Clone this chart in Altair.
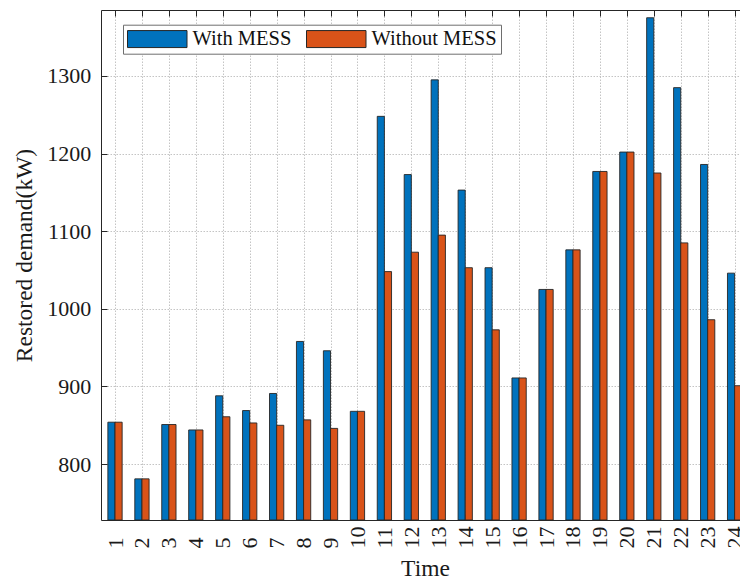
import altair as alt
import pandas as pd

# Restored demand per hour, with and without mobile energy storage (kW)
hours = list(range(1, 25))
with_mess = [854, 781, 851, 844, 888, 869, 891, 958, 946, 868,
             1248, 1173, 1295, 1153, 1053, 911, 1025, 1076, 1177, 1202,
             1375, 1285, 1186, 1046]
without_mess = [854, 781, 851, 844, 861, 853, 850, 857, 846, 868,
                1048, 1073, 1095, 1053, 973, 911, 1025, 1076, 1177, 1202,
                1175, 1085, 986, 901]
series_names = ["With MESS", "Without MESS"]
series_colors = ["#0072BD", "#D95319"]
y_tick_values = [800, 900, 1000, 1100, 1200, 1300]

rows = []
for h, a, b in zip(hours, with_mess, without_mess):
    rows.append({"hour": h, "series": series_names[0], "demand": a})
    rows.append({"hour": h, "series": series_names[1], "demand": b})
df = pd.DataFrame(rows)

X_DOMAIN = [0.48, 24.2]
Y_DOMAIN = [728, 1385]
BAR_W = 0.265
FONT = "Liberation Serif"
INK = "#262626"

x_scale = alt.Scale(domain=X_DOMAIN, nice=False, zero=False)
y_scale = alt.Scale(domain=Y_DOMAIN, nice=False, zero=False)

base = alt.Chart(df).transform_calculate(
    x_start=f"datum.hour + (datum.series == '{series_names[0]}' ? {-BAR_W} : 0)"
).transform_calculate(
    x_end=f"datum.x_start + {BAR_W}"
)

# grouped bars with labelled axes, grid and legend
bars = base.mark_bar(clip=True, stroke=INK, strokeWidth=0.9, opacity=1).encode(
    x=alt.X("x_start:Q", scale=x_scale,
            axis=alt.Axis(orient="bottom", values=hours, grid=True, ticks=False,
                          domain=True, labelAngle=270, labelAlign="left",
                          labelBaseline="middle", labelPadding=28, format="d",
                          title="Time", titleX=324, titleY=55.5,
                          titleBaseline="alphabetic", titleAlign="center")),
    x2="x_end:Q",
    y=alt.Y("demand:Q", scale=y_scale,
            axis=alt.Axis(orient="left", values=y_tick_values, grid=True, ticks=False,
                          domain=True, labelPadding=10.3, format="d",
                          title="Restored demand(kW)", titleAngle=270,
                          titleX=-70, titleY=245, titleBaseline="alphabetic",
                          titleAlign="center")),
    y2=alt.datum(Y_DOMAIN[0]),
    color=alt.Color("series:N",
                    scale=alt.Scale(domain=series_names, range=series_colors),
                    legend=alt.Legend(
                        title=None, orient="none", legendX=22, legendY=14.7,
                        direction="horizontal",
                        symbolType="M-3.5,-1L3.5,-1L3.5,1L-3.5,1Z",
                        symbolSize=289, symbolOffset=20,
                        symbolStrokeColor=INK, symbolStrokeWidth=1,
                        symbolOpacity=1, labelOffset=25,
                        labelFont=FONT, labelFontSize=20.5, labelColor="#111111",
                        columnPadding=12, padding=4,
                        strokeColor="#6e6e6e", fillColor="white")),
)

# inward tick marks on the bottom and left edges
inner_ticks = base.mark_point(opacity=0).encode(
    x=alt.X("hour:Q", scale=x_scale,
            axis=alt.Axis(orient="bottom", values=hours, grid=False, domain=False,
                          labels=False, ticks=True, tickSize=6, offset=-6, title=None)),
    y=alt.Y("demand:Q", scale=y_scale,
            axis=alt.Axis(orient="left", values=y_tick_values, grid=False, domain=False,
                          labels=False, ticks=True, tickSize=6, offset=-6, title=None)),
)

# top border line
top_frame = base.mark_point(opacity=0).encode(
    x=alt.X("hour:Q", scale=x_scale,
            axis=alt.Axis(orient="top", values=hours, grid=False, domain=True,
                          labels=False, ticks=False, title=None)),
    y=alt.Y("demand:Q", scale=y_scale, axis=None),
)

# inward tick marks on the top edge
top_ticks = base.mark_point(opacity=0).encode(
    x=alt.X("hour:Q", scale=x_scale,
            axis=alt.Axis(orient="top", values=hours, grid=False, domain=False,
                          labels=False, ticks=True, tickSize=6, offset=-6, title=None)),
    y=alt.Y("demand:Q", scale=y_scale, axis=None),
)

chart = alt.layer(bars, inner_ticks, top_frame, top_ticks).resolve_axis(
    x="independent", y="independent"
).properties(
    width=639, height=510,
    autosize=alt.AutoSizeParams(type="none"),
    padding={"left": 101, "top": 10, "right": 0, "bottom": 58},
    background="white",
).configure_view(
    stroke=None
).configure_axis(
    labelFont=FONT, titleFont=FONT, labelFontSize=22, titleFontSize=23.5,
    titleFontWeight="normal", labelColor="#1a1a1a", titleColor="#1a1a1a",
    domainColor=INK, domainWidth=1, tickColor=INK, tickWidth=1,
    gridColor="#bdbdbd", gridDash=[1.5, 1.5], gridWidth=0.9,
)

chart.save("out.html", embed_options={"renderer": "svg", "actions": False})
